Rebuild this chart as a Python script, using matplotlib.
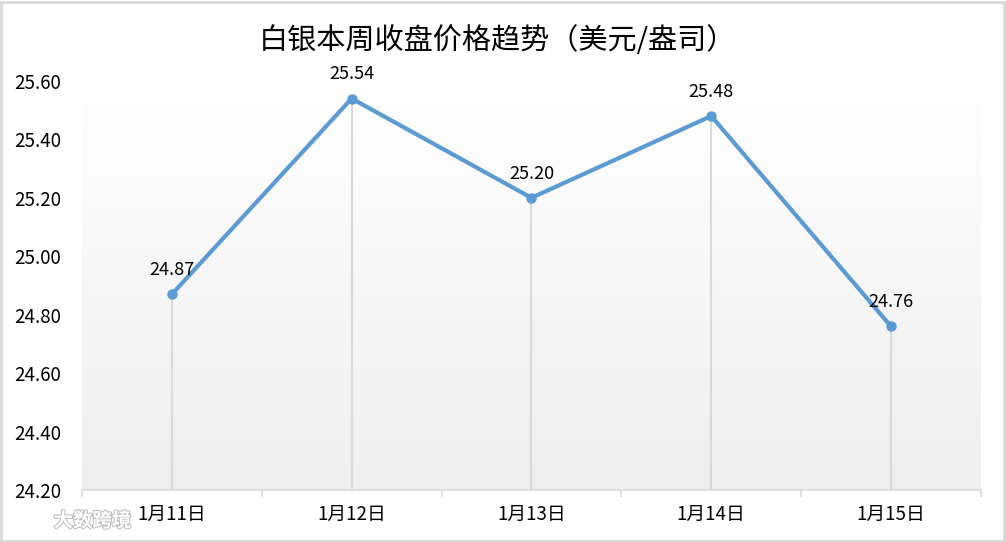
import numpy as np
import matplotlib.pyplot as plt
import matplotlib as mpl
import matplotlib.patheffects as pe
from matplotlib.ticker import FixedLocator, NullFormatter
from matplotlib.patches import Rectangle

plt.rcParams['font.family'] = ['Noto Sans CJK SC', 'DejaVu Sans']

dates = ['1月11日', '1月12日', '1月13日', '1月14日', '1月15日']
prices = [24.87, 25.54, 25.20, 25.48, 24.76]
yticks = [24.20, 24.40, 24.60, 24.80, 25.00, 25.20, 25.40, 25.60]
title = '白银本周收盘价格趋势（美元/盎司）'

fig = plt.figure(figsize=(10.06, 5.42), dpi=100)
ax = fig.add_axes([0.0815, 0.096, 0.8935, 0.7546])

x = np.arange(len(dates))
ax.set_xlim(-0.5, len(dates) - 0.5)
ax.set_ylim(yticks[0], yticks[-1])

# background gradient, white at top to light gray at bottom
grad = np.linspace(1.0, 0.0, 256).reshape(-1, 1)
cmap = mpl.colors.LinearSegmentedColormap.from_list('bg', ['#eeeeee', '#ffffff'])
ax.imshow(grad, cmap=cmap, aspect='auto', extent=[-0.5, len(dates) - 0.5, yticks[0], yticks[-1]],
          zorder=0, vmin=0, vmax=1)

# drop lines
ax.vlines(x, yticks[0], prices, colors='#d9d9d9', linewidth=1.5, zorder=1)

ax.plot(x, prices, color='#5b9bd5', linewidth=3, marker='o', markersize=6.5, zorder=3)

for xi, p in zip(x, prices):
    ax.annotate(f'{p:.2f}', (xi, p), xytext=(0, 11), textcoords='offset points',
                ha='center', va='bottom', fontsize=13, color='#000000')

for s in ['top', 'right', 'left']:
    ax.spines[s].set_visible(False)
ax.spines['bottom'].set_color('#d9d9d9')
ax.spines['bottom'].set_linewidth(1.2)

ax.set_xticks(x)
ax.set_xticklabels(dates, fontsize=13.5)
ax.xaxis.set_minor_locator(FixedLocator(np.arange(-0.5, len(dates), 1.0)))
ax.xaxis.set_minor_formatter(NullFormatter())
ax.tick_params(axis='x', which='major', length=0, pad=10)
ax.tick_params(axis='x', which='minor', length=5, width=1.2, color='#d9d9d9')

ax.set_yticks(yticks)
ax.set_yticklabels([f'{v:.2f}' for v in yticks], fontsize=13.5)
ax.tick_params(axis='y', length=0, pad=15)

fig.text(0.495, 0.925, title, ha='center', va='center', fontsize=21, color='#000000',
         fontweight='light')

# watermark
fig.text(0.092, 0.039, '大数跨境', ha='center', va='center', fontsize=14, color='#ffffff',
         fontweight='bold', path_effects=[pe.withStroke(linewidth=1.5, foreground='#bfbfbf')])

# outer frame
fig.patches.append(Rectangle((0.001, 0.002), 0.997, 0.995, transform=fig.transFigure,
                             fill=False, edgecolor='#d9d9d9', linewidth=2))

fig.savefig('out.png', dpi=100)
